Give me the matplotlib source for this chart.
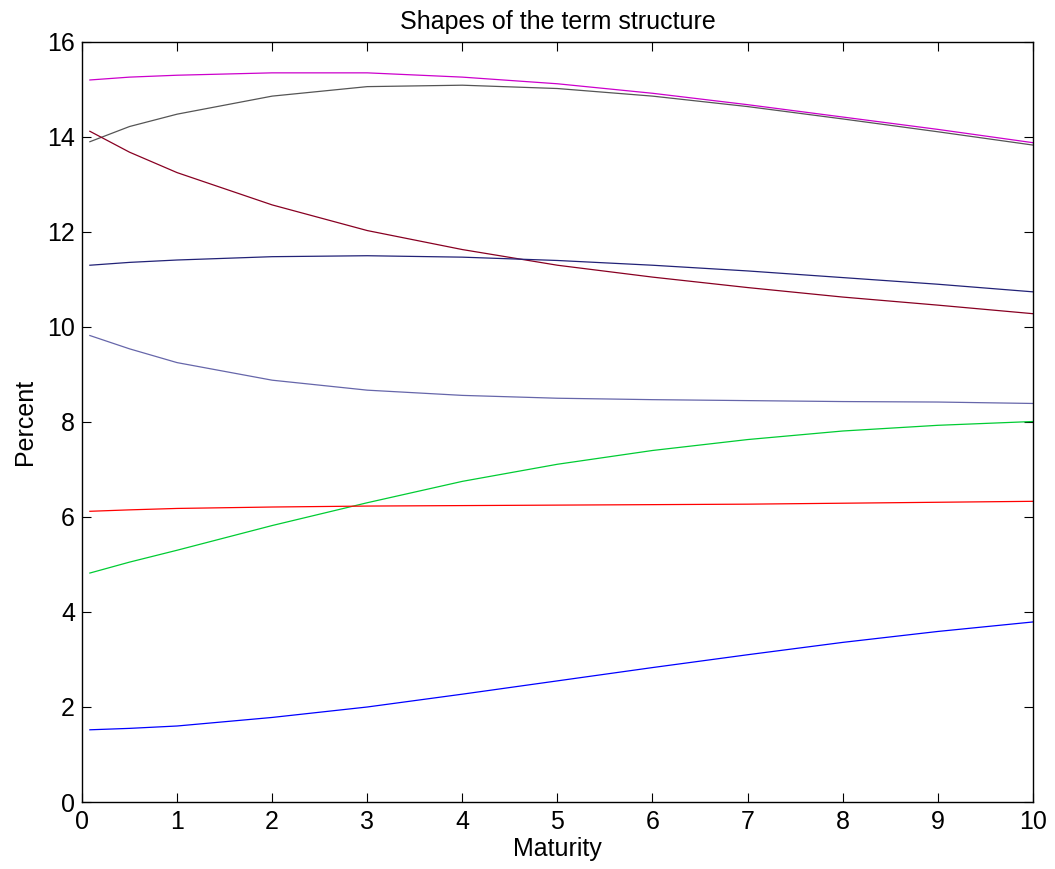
import matplotlib
matplotlib.use("Agg")
import matplotlib.pyplot as plt

plt.rcParams['font.family'] = ['Liberation Sans', 'DejaVu Sans']

maturity = [0.083, 0.5, 1, 2, 3, 4, 5, 6, 7, 8, 9, 10]

magenta = [15.20, 15.26, 15.30, 15.35, 15.35, 15.26, 15.12, 14.92, 14.68, 14.42, 14.16, 13.88]
gray    = [13.90, 14.22, 14.48, 14.86, 15.06, 15.09, 15.02, 14.86, 14.64, 14.38, 14.11, 13.83]
maroon  = [14.12, 13.68, 13.25, 12.57, 12.03, 11.63, 11.30, 11.05, 10.83, 10.63, 10.46, 10.28]
navy    = [11.30, 11.36, 11.41, 11.48, 11.50, 11.47, 11.40, 11.30, 11.18, 11.04, 10.90, 10.74]
slate   = [9.82, 9.54, 9.25, 8.88, 8.67, 8.56, 8.50, 8.47, 8.45, 8.43, 8.42, 8.39]
green   = [4.82, 5.05, 5.30, 5.82, 6.30, 6.75, 7.11, 7.40, 7.63, 7.81, 7.93, 8.01]
red     = [6.12, 6.15, 6.18, 6.21, 6.23, 6.24, 6.25, 6.26, 6.27, 6.29, 6.31, 6.33]
blue    = [1.52, 1.55, 1.60, 1.78, 2.00, 2.27, 2.55, 2.83, 3.10, 3.36, 3.59, 3.79]

series = [
    (magenta, '#cc00cc'),
    (gray, '#555555'),
    (maroon, '#880022'),
    (navy, '#222277'),
    (slate, '#6666aa'),
    (green, '#00cc33'),
    (red, '#ff0000'),
    (blue, '#0000ff'),
]

xticks = list(range(0, 11))
yticks = list(range(0, 17, 2))

fig = plt.figure(figsize=(10.55, 8.69), dpi=100)
ax = fig.add_axes([0.0777, 0.0771, 0.9013, 0.8746])
for vals, col in series:
    ax.plot(maturity, vals, color=col, linewidth=0.9)

ax.set_xlim(0, 10)
ax.set_ylim(0, 16)
ax.set_xticks(xticks)
ax.set_yticks(yticks)
ax.tick_params(direction='in', top=True, right=True, labelsize=18, length=6.5, width=0.8)
ax.tick_params(axis='x', pad=6)
ax.tick_params(axis='y', pad=5)
for s in ax.spines.values():
    s.set_linewidth(1.0)
ax.set_xlabel('Maturity', fontsize=18, labelpad=2)
ax.set_ylabel('Percent', fontsize=18, labelpad=7)
ax.set_title('Shapes of the term structure', fontsize=18, pad=9)

fig.savefig('out.png', dpi=100)
